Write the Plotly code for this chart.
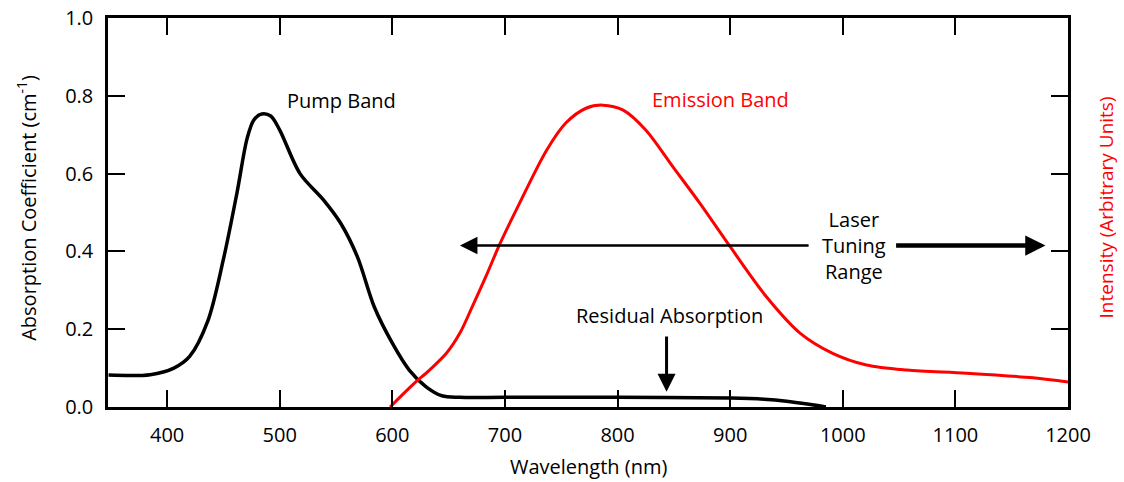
import plotly.graph_objects as go

# ---- data ----
pump_nm = [348, 385, 406, 420, 436, 450, 462, 471, 477, 484, 492, 500, 518, 539, 554,
           569, 584, 600, 615, 630, 644, 660, 700, 800, 900, 930, 950, 970, 985]
pump_abs = [0.082, 0.083, 0.10, 0.13, 0.22, 0.38, 0.55, 0.69, 0.738, 0.753, 0.748, 0.712,
            0.60, 0.532, 0.473, 0.386, 0.257, 0.164, 0.095, 0.052, 0.029, 0.025, 0.025,
            0.025, 0.023, 0.02, 0.015, 0.007, 0.0]

emis_nm = [598, 618, 633, 648, 660, 671, 683, 695, 713, 737, 754, 772, 787, 805, 825,
           849, 873, 900, 932, 962, 991, 1021, 1057, 1110, 1169, 1200]
emis_int = [0.0, 0.057, 0.095, 0.138, 0.19, 0.258, 0.335, 0.416, 0.524, 0.66, 0.73, 0.768,
            0.776, 0.763, 0.712, 0.618, 0.524, 0.412, 0.284, 0.19, 0.138, 0.108, 0.095,
            0.087, 0.075, 0.064]

x_ticks = [400, 500, 600, 700, 800, 900, 1000, 1100, 1200]
y_ticks = [0.0, 0.2, 0.4, 0.6, 0.8, 1.0]
y_tick_labels = ["0.0", "0.2", "0.4", "0.6", "0.8", "1.0"]

tuning_y = 0.415
tuning_left_tip = 660
tuning_left_tail = 971
tuning_right_tail = 1046
tuning_right_tip = 1180
tuning_text_x = 1010
residual_x = 843.5
residual_top = 0.185
residual_tip = 0.039

FONT = "'Open Sans', Lato, sans-serif"
RED = "#ff0000"

fig = go.Figure()
fig.add_trace(go.Scatter(x=pump_nm, y=pump_abs, mode="lines",
                         line=dict(color="black", width=3.5, shape="spline", smoothing=0.9),
                         showlegend=False, hoverinfo="skip"))
fig.add_trace(go.Scatter(x=emis_nm, y=emis_int, mode="lines",
                         line=dict(color=RED, width=3, shape="spline", smoothing=0.9),
                         showlegend=False, hoverinfo="skip"))

# Laser tuning range: thin arrow to the left, thick arrow to the right
fig.add_annotation(x=tuning_left_tip, y=tuning_y, ax=tuning_left_tail, ay=tuning_y,
                   xref="x", yref="y", axref="x", ayref="y", text="", showarrow=True,
                   arrowhead=2, arrowsize=1.4, arrowwidth=2.5, arrowcolor="black")
fig.add_annotation(x=tuning_right_tip, y=tuning_y, ax=tuning_right_tail, ay=tuning_y,
                   xref="x", yref="y", axref="x", ayref="y", text="", showarrow=True,
                   arrowhead=2, arrowsize=0.9, arrowwidth=4.5, arrowcolor="black")
fig.add_annotation(x=tuning_text_x, y=tuning_y, xref="x", yref="y", showarrow=False,
                   text="Laser<br>Tuning<br>Range", align="center",
                   font=dict(family=FONT, size=20, color="black"))
# Residual absorption
fig.add_annotation(x=residual_x, y=residual_tip, ax=residual_x, ay=residual_top,
                   xref="x", yref="y", axref="x", ayref="y", text="", showarrow=True,
                   arrowhead=2, arrowsize=1.2, arrowwidth=3, arrowcolor="black")
fig.add_annotation(x=846, y=0.234, xref="x", yref="y", showarrow=False,
                   text="Residual Absorption", font=dict(family=FONT, size=20, color="black"))
fig.add_annotation(x=555, y=0.787, xref="x", yref="y", showarrow=False,
                   text="Pump Band", font=dict(family=FONT, size=20, color="black"))
fig.add_annotation(x=891, y=0.79, xref="x", yref="y", showarrow=False,
                   text="Emission Band", font=dict(family=FONT, size=20, color=RED))

# axis titles (placed as annotations in paper coordinates)
fig.add_annotation(xref="paper", yref="paper", x=-0.0844, y=0.512, xanchor="center",
                   yanchor="middle", textangle=-90, showarrow=False,
                   text="Absorption Coefficient (cm<sup>-1</sup>)",
                   font=dict(family=FONT, size=20, color="black"))
fig.add_annotation(xref="paper", yref="paper", x=1.04, y=0.514, xanchor="center",
                   yanchor="middle", textangle=-90, showarrow=False,
                   text="Intensity (Arbitrary Units)",
                   font=dict(family=FONT, size=19, color=RED))
fig.add_annotation(xref="paper", yref="paper", x=0.5, y=-0.152, xanchor="center",
                   yanchor="middle", showarrow=False, text="Wavelength (nm)",
                   font=dict(family=FONT, size=20, color="black"))

fig.update_layout(
    width=1124, height=482,
    margin=dict(l=108, r=56, t=18, b=75, autoexpand=False),
    paper_bgcolor="white", plot_bgcolor="white",
    font=dict(family=FONT, size=20, color="black"),
    xaxis=dict(range=[347.5, 1200], tickvals=x_ticks, ticks="inside", ticklen=17,
               tickwidth=2, tickcolor="black", showline=True, linewidth=2.5,
               linecolor="black", mirror="allticks", showgrid=False, zeroline=False,
               ticklabelstandoff=8, automargin=False, ticklabeloverflow="allow",
               tickfont=dict(family=FONT, size=20)),
    yaxis=dict(range=[0, 1.0], tickvals=y_ticks, ticktext=y_tick_labels, ticks="inside",
               ticklen=17, tickwidth=2, tickcolor="black", showline=True, linewidth=2.5,
               linecolor="black", mirror="allticks", showgrid=False, zeroline=False,
               ticklabelstandoff=8, automargin=False, ticklabeloverflow="allow",
               tickfont=dict(family=FONT, size=20)),
)

# remove the default 8px body margin so the figure fills the window exactly
fig.write_html("out.html", config={"displayModeBar": False},
               post_script="document.body.style.margin='0';")
